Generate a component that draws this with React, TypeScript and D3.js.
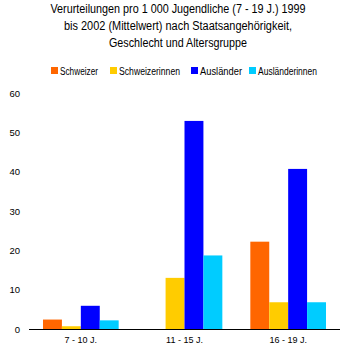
import React from "react";
import * as d3 from "d3";

const categories = ["7 - 10 J.", "11 - 15 J.", "16 - 19 J."];
const seriesNames = ["Schweizer", "Schweizerinnen", "Ausländer", "Ausländerinnen"];
const schweizer = [2.4, 0, 22.2];
const schweizerinnen = [0.7, 13.0, 6.8];
const auslaender = [5.9, 52.9, 40.7];
const auslaenderinnen = [2.2, 18.7, 6.8];
const yTicks = [0, 10, 20, 30, 40, 50, 60];
const titleLines = [
  "Verurteilungen pro 1 000 Jugendliche (7 - 19 J.) 1999",
  "bis 2002 (Mittelwert) nach Staatsangehörigkeit,",
  "Geschlecht und Altersgruppe",
];

const colors = ["#FF6600", "#FFCC00", "#0000FF", "#00CCFF"];
const font = "'Liberation Sans', Arial, sans-serif";

export default function App() {
  const width = 357;
  const height = 352;
  const left = 29;
  const right = 340;
  const top = 93;
  const bottom = 329;

  const values = [schweizer, schweizerinnen, auslaender, auslaenderinnen];

  const x0 = d3.scaleBand<string>().domain(categories).range([left, right]).paddingInner(0.27).paddingOuter(0.135);
  const x1 = d3.scaleBand<string>().domain(seriesNames).range([0, x0.bandwidth()]);
  const y = d3.scaleLinear().domain([0, 60]).range([bottom, top]);

  const titleWidths = [255, 228, 138];
  const legendX = [51, 110, 191, 249];
  const legendW = [38, 61, 42, 59];

  return (
    <svg width={width} height={height} style={{ position: "absolute", left: 0, top: 0, background: "#fff" }}>
      <rect width={width} height={height} fill="#fff" />
      {titleLines.map((t, i) => (
        <text
          key={i}
          x={178 - titleWidths[i] / 2}
          y={13 + i * 17}
          textLength={titleWidths[i]}
          lengthAdjust="spacingAndGlyphs"
          fontFamily={font}
          fontSize={12.5}
          fill="#000"
        >
          {t}
        </text>
      ))}

      {seriesNames.map((s, i) => (
        <g key={s}>
          <rect x={legendX[i]} y={67} width={7} height={7} fill={colors[i]} />
          <text
            x={legendX[i] + 9}
            y={74.5}
            textLength={legendW[i]}
            lengthAdjust="spacingAndGlyphs"
            fontFamily={font}
            fontSize={10}
            fill="#000"
          >
            {s}
          </text>
        </g>
      ))}

      {yTicks.map((t) => (
        <text key={t} x={20} y={y(t) + 3.5} textAnchor="end" fontFamily={font} fontSize={9.5} fill="#000">
          {t}
        </text>
      ))}

      {categories.map((c, ci) => (
        <g key={c} transform={`translate(${x0(c)},0)`}>
          {seriesNames.map((s, si) => {
            const v = values[si][ci];
            if (v <= 0) return null;
            return (
              <rect
                key={s}
                x={x1(s)}
                y={y(v)}
                width={x1.bandwidth()}
                height={y(0) - y(v)}
                fill={colors[si]}
              />
            );
          })}
          <text
            x={x0.bandwidth() / 2}
            y={bottom + 14}
            textAnchor="middle"
            fontFamily={font}
            fontSize={9}
            fill="#000"
          >
            {c}
          </text>
        </g>
      ))}

      <line x1={left} x2={right} y1={bottom + 0.5} y2={bottom + 0.5} stroke="#000" strokeWidth={1} />
    </svg>
  );
}
